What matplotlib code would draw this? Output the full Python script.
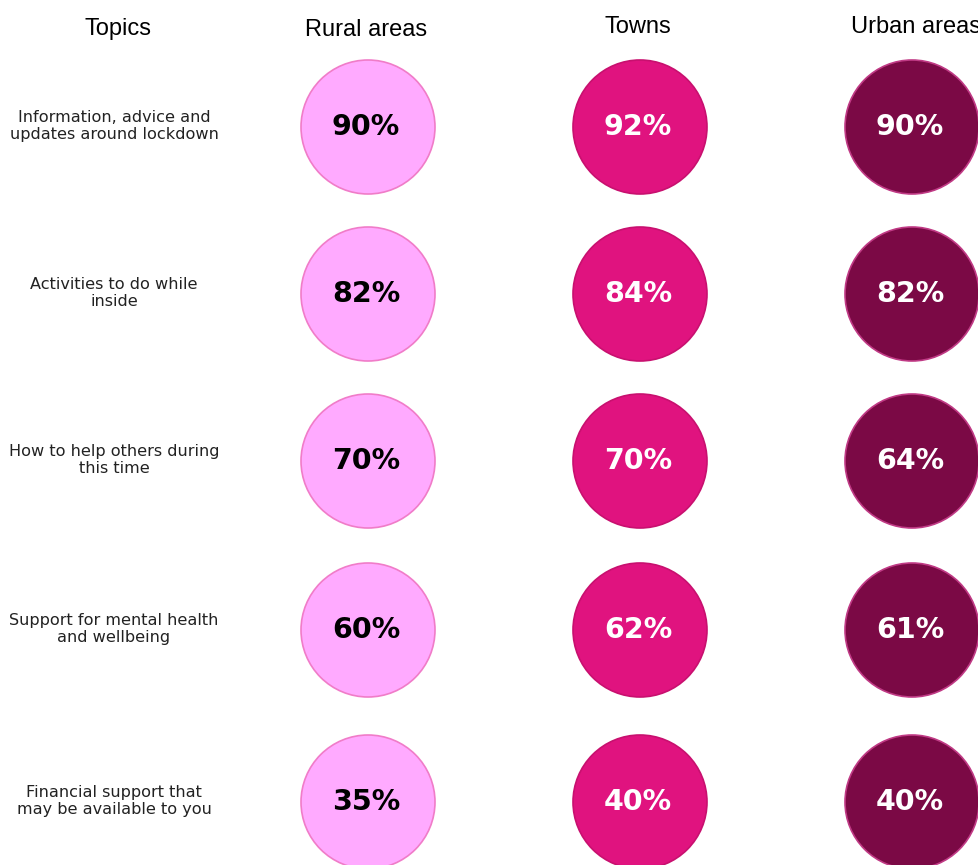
import numpy as np
import matplotlib.pyplot as plt
from matplotlib.patches import Circle

topics = ["Information, advice and\nupdates around lockdown",
          "Activities to do while\ninside",
          "How to help others during\nthis time",
          "Support for mental health\nand wellbeing",
          "Financial support that\nmay be available to you"]
areas = ["Rural areas", "Towns", "Urban areas"]
rural = [90, 82, 70, 60, 35]
towns = [92, 84, 70, 62, 40]
urban = [90, 82, 64, 61, 40]

# layout in pixel units
col_x = [368, 640, 912]
head_x = [366, 638, 916]
head_y = [30, 27, 27]
row_y = [127, 294, 461, 630, 802]
radius = 67
fills = ["#ffaaff", "#e0137f", "#7b0945"]
edges = ["#f07cc8", "#c8106f", "#c03a85"]
txt_col = ["black", "white", "white"]

fig = plt.figure(figsize=(9.79, 8.65), dpi=100)
ax = fig.add_axes([0, 0, 1, 1])
ax.set_xlim(0, 979)
ax.set_ylim(865, 0)
ax.set_aspect("equal")
ax.axis("off")

ax.text(118, 29, "Topics", ha="center", va="center", fontsize=17, family="Liberation Sans")
for j, a in enumerate(areas):
    ax.text(head_x[j], head_y[j], a, ha="center", va="center", fontsize=17, family="Liberation Sans")

for i, t in enumerate(topics):
    ax.text(114, row_y[i] - 1, t, ha="center", va="center", fontsize=11.6, family="DejaVu Sans",
            color="#222222", linespacing=1.2)

for j, vals in enumerate([rural, towns, urban]):
    for i, v in enumerate(vals):
        c = Circle((col_x[j], row_y[i]), radius, facecolor=fills[j], edgecolor=edges[j], lw=1.2)
        ax.add_patch(c)
        ax.text(col_x[j] - 2, row_y[i], f"{v}%", ha="center", va="center", fontsize=20.5,
                fontweight="bold", color=txt_col[j], family="DejaVu Sans")

fig.savefig("out.png", dpi=100)
